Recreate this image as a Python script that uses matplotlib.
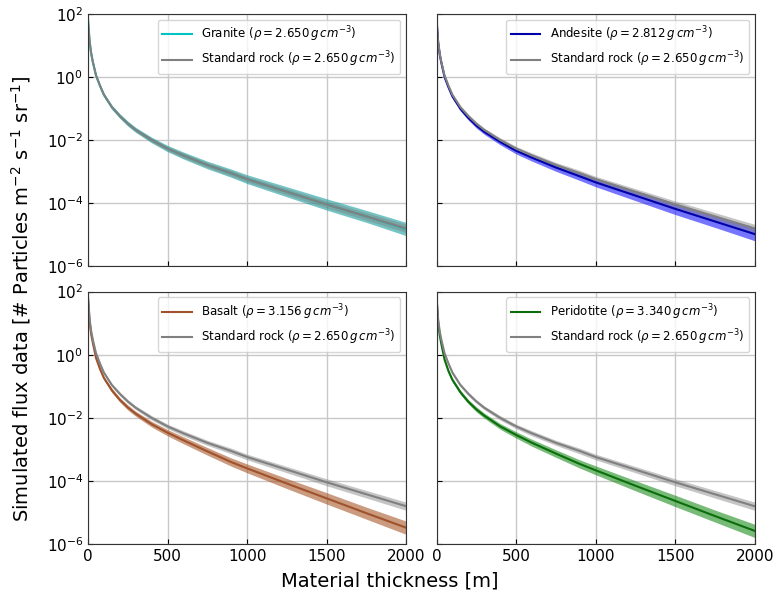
import numpy as np
import matplotlib
matplotlib.use("Agg")
import matplotlib.pyplot as plt

# thickness of material [m]
thickness = [0, 10, 20, 30, 50, 75, 100, 150, 200, 250, 300, 400, 500,
             600, 750, 900, 1000, 1250, 1500, 1750, 2000]

# log10 of simulated flux
log_standard = [1.80, 1.12, 0.74, 0.48, 0.05, -0.28, -0.57, -0.96, -1.24, -1.48, -1.68,
                -2.00, -2.27, -2.49, -2.79, -3.05, -3.24, -3.64, -4.04, -4.42, -4.80]
log_granite = [1.80, 1.12, 0.74, 0.48, 0.05, -0.28, -0.57, -0.96, -1.24, -1.48, -1.68,
               -2.00, -2.27, -2.49, -2.79, -3.05, -3.24, -3.64, -4.04, -4.42, -4.82]
log_andesite = [1.80, 1.09, 0.71, 0.45, 0.00, -0.33, -0.62, -1.01, -1.30, -1.54, -1.74,
                -2.06, -2.34, -2.56, -2.87, -3.15, -3.34, -3.76, -4.18, -4.58, -4.98]
log_basalt = [1.80, 1.05, 0.64, 0.38, -0.10, -0.45, -0.74, -1.13, -1.43, -1.67, -1.87,
              -2.20, -2.47, -2.71, -3.06, -3.40, -3.60, -4.08, -4.55, -5.02, -5.48]
log_peridotite = [1.80, 1.02, 0.61, 0.34, -0.15, -0.52, -0.80, -1.19, -1.49, -1.73, -1.93,
                  -2.27, -2.54, -2.79, -3.13, -3.46, -3.66, -4.15, -4.63, -5.11, -5.58]

# half width of the uncertainty bands (decades)
err_standard = [0.02, 0.03, 0.03, 0.04, 0.04, 0.05, 0.05, 0.05, 0.06, 0.06, 0.06,
                0.07, 0.07, 0.08, 0.08, 0.09, 0.09, 0.10, 0.11, 0.12, 0.13]
err_rock = [0.03, 0.04, 0.04, 0.05, 0.05, 0.06, 0.06, 0.07, 0.07, 0.08, 0.08,
            0.09, 0.10, 0.11, 0.12, 0.13, 0.14, 0.16, 0.18, 0.19, 0.21]

rock_names = ["Granite", "Andesite", "Basalt", "Peridotite"]
rock_densities = ["2.650", "2.812", "3.156", "3.340"]
rock_values = [log_granite, log_andesite, log_basalt, log_peridotite]
line_colors = ["#00c4c4", "#0000a8", "#a0522d", "#0a6e0a"]
band_colors = ["#1a9e9e", "#1a1aff", "#a8582a", "#1e8c1e"]

x = np.array(thickness)
std = np.array(log_standard)
std_err = np.array(err_standard)
rerr = np.array(err_rock)

fig, axes = plt.subplots(2, 2, figsize=(7.79, 5.98), dpi=100, sharex=True, sharey=True)
fig.subplots_adjust(left=0.113, right=0.969, top=0.977, bottom=0.090,
                    hspace=0.1, wspace=0.095)

for i, ax in enumerate(axes.flat):
    vals = np.array(rock_values[i])
    ax.fill_between(x, 10 ** (vals - rerr), 10 ** (vals + rerr),
                    color=band_colors[i], alpha=0.6, lw=0)
    ax.plot(x, 10 ** vals, color=line_colors[i], lw=1.5,
            label=rock_names[i] + r" ($\rho = %s\,g\,cm^{-3}$)" % rock_densities[i])
    ax.fill_between(x, 10 ** (std - std_err), 10 ** (std + std_err),
                    color="grey", alpha=0.45, lw=0)
    ax.plot(x, 10 ** std, color="grey", lw=1.5,
            label=r"Standard rock ($\rho = 2.650\,g\,cm^{-3}$)")
    ax.set_yscale("log")
    ax.set_ylim(1e-6, 1e2)
    ax.set_xlim(0, 2000)
    ax.set_xticks([0, 500, 1000, 1500, 2000])
    ax.set_yticks([1e-6, 1e-4, 1e-2, 1e0, 1e2])
    ax.minorticks_off()
    ax.grid(True, color="#c8c8c8", lw=1)
    ax.set_axisbelow(True)
    ax.tick_params(direction="in", labelsize=11)
    for s in ax.spines.values():
        s.set_color("#333333")
    ax.legend(loc="upper right", fontsize=8.5, handlelength=2.5)

fig.supxlabel("Material thickness [m]", fontsize=14, y=0.012)
fig.supylabel(r"Simulated flux data [# Particles m$^{-2}$ s$^{-1}$ sr$^{-1}$]",
              fontsize=14, x=0.012)

fig.savefig("out.png")
